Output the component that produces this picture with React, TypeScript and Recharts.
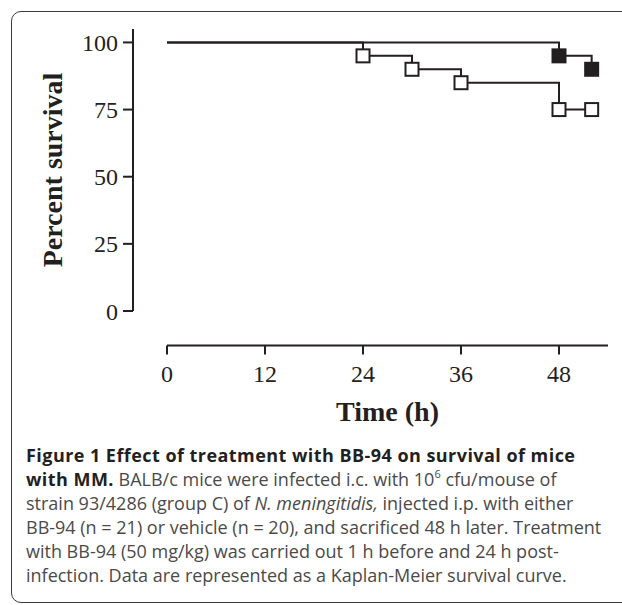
import { LineChart, Line, XAxis, YAxis } from 'recharts';

// Kaplan-Meier survival
const bb94Hours = [0, 48, 52];
const bb94Survival = [100, 95, 90];
const vehicleHours = [0, 24, 30, 36, 48, 52];
const vehicleSurvival = [100, 95, 90, 85, 75, 75];
const xTicks = [0, 12, 24, 36, 48];
const yTicks = [0, 25, 50, 75, 100];

const bb94Data = bb94Hours.map((t, i) => ({ t, s: bb94Survival[i] }));
const vehicleData = vehicleHours.map((t, i) => ({ t, s: vehicleSurvival[i] }));

const ink = '#231f20';
const serif = '"Liberation Serif", "DejaVu Serif", serif';
const sans = '"Open Sans", "Noto Sans", sans-serif';

const renderSquare = (props: any, filled: boolean) => {
  const { cx, cy, payload, index } = props;
  if (payload.t === 0 || cx == null) return <g key={`d-${index}`} />;
  return (
    <rect
      key={`d-${index}`}
      x={cx - 6.5}
      y={cy - 6.5}
      width={13}
      height={13}
      fill={filled ? ink : '#fff'}
      stroke={ink}
      strokeWidth={2}
    />
  );
};

const bold = { fontWeight: 700, color: ink, letterSpacing: 0.45 };

const Caption = () => (
  <div
    style={{
      position: 'absolute',
      left: 26,
      top: 443,
      fontFamily: sans,
      fontSize: 18,
      lineHeight: '24px',
      color: '#4a4a4a',
      whiteSpace: 'nowrap',
    }}
  >
    <div style={bold}>Figure 1 Effect of treatment with BB-94 on survival of mice</div>
    <div>
      <b style={bold}>with MM.</b> BALB/c mice were infected i.c. with 10
      <sup style={{ fontSize: 11, verticalAlign: 'top', lineHeight: '14px' }}>6</sup> cfu/mouse of
    </div>
    <div>
      strain 93/4286 (group C) of <i>N. meningitidis,</i> injected i.p. with either
    </div>
    <div>BB-94 (n = 21) or vehicle (n = 20), and sacrificed 48 h later. Treatment</div>
    <div>with BB-94 (50 mg/kg) was carried out 1 h before and 24 h post-</div>
    <div>infection. Data are represented as a Kaplan-Meier survival curve.</div>
  </div>
);

const App = () => {
  return (
    <div
      style={{
        position: 'absolute',
        left: 0,
        top: 0,
        width: 622,
        height: 605,
        overflow: 'hidden',
        background: '#fff',
      }}
    >
      <div
        style={{
          position: 'absolute',
          left: 11,
          top: 11,
          width: 700,
          height: 590,
          border: '1.5px solid #3a3a3a',
          borderRadius: 10,
        }}
      />
      <div style={{ position: 'absolute', left: 0, top: 0 }}>
        <LineChart width={622} height={440} margin={{ top: 29, right: 14, bottom: 0, left: 0 }}>
          <XAxis
            type='number'
            dataKey='t'
            domain={[0, 54]}
            ticks={xTicks}
            height={129}
            tickSize={9}
            tickMargin={45}
            axisLine={{ stroke: ink, strokeWidth: 2, transform: 'translate(0,34.5)' }}
            tickLine={{ stroke: ink, strokeWidth: 2, transform: 'translate(0,34.5)' }}
            tick={{ fill: ink, fontSize: 24, fontFamily: serif }}
            label={{
              value: 'Time (h)',
              position: 'insideTop',
              offset: 90,
              fill: ink,
              fontSize: 28,
              fontWeight: 700,
              fontFamily: serif,
            }}
          />
          <YAxis
            type='number'
            domain={[0, 105]}
            ticks={yTicks}
            width={167}
            tickSize={10}
            tickMargin={39}
            axisLine={{ stroke: ink, strokeWidth: 2, transform: 'translate(-34,0)' }}
            tickLine={{ stroke: ink, strokeWidth: 2, transform: 'translate(-34,0)' }}
            tick={{ fill: ink, fontSize: 24, fontFamily: serif }}
            label={{
              value: 'Percent survival',
              angle: -90,
              position: 'insideLeft',
              offset: 52,
              fill: ink,
              fontSize: 28,
              fontWeight: 700,
              fontFamily: serif,
              style: { textAnchor: 'middle' },
            }}
          />
          <Line
            data={vehicleData}
            dataKey='s'
            type='stepAfter'
            stroke={ink}
            strokeWidth={2}
            dot={(p: any) => renderSquare(p, false)}
            activeDot={false}
            isAnimationActive={false}
          />
          <Line
            data={bb94Data}
            dataKey='s'
            type='stepAfter'
            stroke={ink}
            strokeWidth={2}
            dot={(p: any) => renderSquare(p, true)}
            activeDot={false}
            isAnimationActive={false}
          />
        </LineChart>
      </div>
      <Caption />
    </div>
  );
};

export default App;
